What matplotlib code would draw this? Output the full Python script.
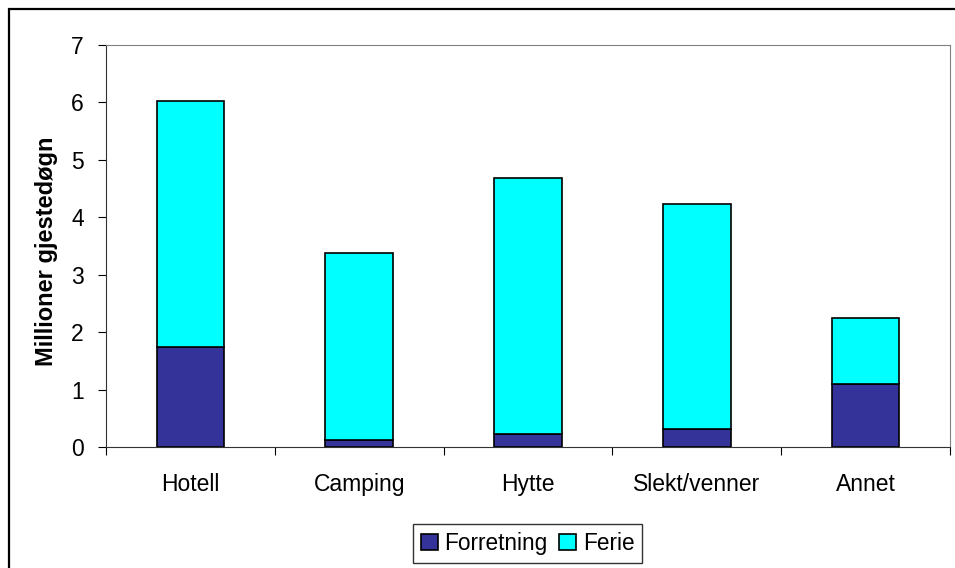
import numpy as np
import matplotlib
matplotlib.use("Agg")
import matplotlib.pyplot as plt
from matplotlib.patches import Rectangle

plt.rcParams['font.family'] = ['Liberation Sans', 'DejaVu Sans']

# Data (millioner gjestedøgn)
kategorier = ["Hotell", "Camping", "Hytte", "Slekt/venner", "Annet"]
forretning = [1.75, 0.12, 0.23, 0.32, 1.09]
ferie = [4.27, 3.26, 4.46, 3.91, 1.16]

blaa = '#333399'
cyan = '#00FFFF'
fs = 16.5

fig = plt.figure(figsize=(9.55, 5.68), dpi=100)
ax = fig.add_axes([106/955, 1 - 447/568, (950-106)/955, (447-45)/568])

x = np.arange(len(kategorier))
ax.bar(x, forretning, width=0.4, color=blaa, edgecolor='black', linewidth=1.2, label='Forretning')
ax.bar(x, ferie, width=0.4, bottom=forretning, color=cyan, edgecolor='black', linewidth=1.2, label='Ferie')

ax.set_xlim(-0.5, len(kategorier) - 0.5)
ax.set_ylim(0, 7)
ax.set_yticks(range(0, 8))
ax.tick_params(axis='y', labelsize=fs, length=6, direction='out', pad=10)

# tick marks between categories, labels at the centres
ax.set_xticks(np.arange(-0.5, len(kategorier), 1.0))
ax.set_xticklabels([])
ax.tick_params(axis='x', which='major', length=6, direction='out')
ax.set_xticks(x, minor=True)
ax.set_xticklabels(kategorier, minor=True)
ax.tick_params(axis='x', which='minor', length=0, labelsize=fs, pad=19)

for s in ['top', 'right']:
    ax.spines[s].set_color('#808080')
for s in ['left', 'bottom']:
    ax.spines[s].set_color('#333333')

ax.set_ylabel('Millioner gjestedøgn', fontsize=17, fontweight='bold')
ax.yaxis.set_label_coords(-0.057, 0.486)

leg = fig.legend(loc='center', bbox_to_anchor=(527.5/955, 1 - 543.5/568), ncol=2,
                 fontsize=16.3, frameon=True, fancybox=False, edgecolor='black',
                 handlelength=0.75, handleheight=0.75, handletextpad=0.3,
                 columnspacing=0.5, borderpad=0.35)
leg.get_frame().set_linewidth(1.0)

# outer chart border
fig.patches.append(Rectangle((8.5/955, -0.01), 1.0, 1 - 8.5/568 + 0.01,
                             transform=fig.transFigure, fill=False,
                             edgecolor='black', linewidth=1.6))

plt.savefig('out.png', dpi=100)
